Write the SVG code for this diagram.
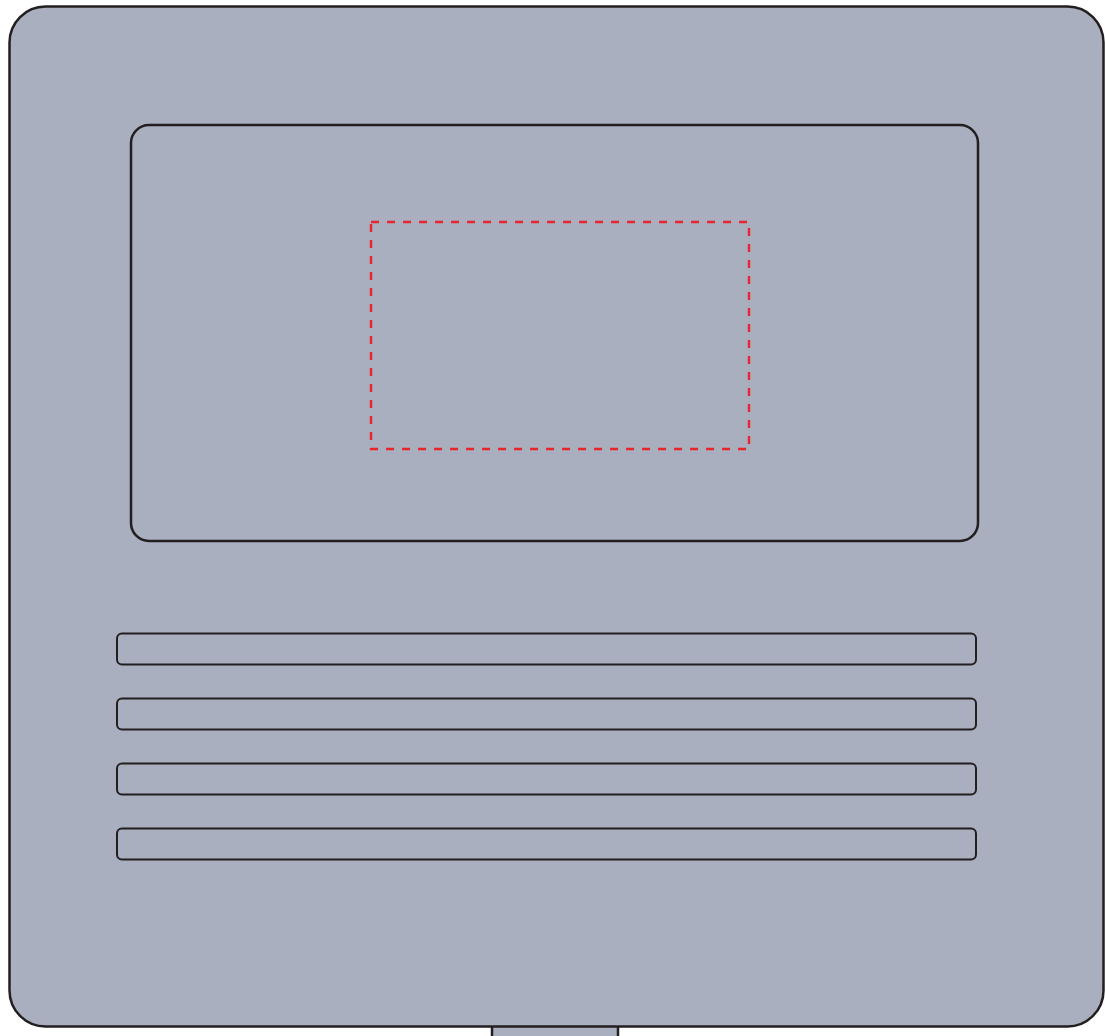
<svg xmlns="http://www.w3.org/2000/svg" width="1105" height="1036" viewBox="0 0 1105 1036">
<style>
.body{fill:#a9afbe;stroke:#231f20;stroke-width:2.5}
.slot{fill:#a9afbe;stroke:#231f20;stroke-width:2}
.focus{fill:none;stroke:#e8242c;stroke-width:2.4;stroke-dasharray:8 8}
</style>
<rect width="1105" height="1036" fill="#ffffff"/>
<g id="stand"><rect class="body" x="492" y="1020" width="126" height="20"/></g>
<g id="housing"><rect class="body" x="9.5" y="6.5" width="1094" height="1020" rx="36" ry="36"/></g>
<g id="screen"><rect class="body" x="131" y="125" width="847" height="416" rx="18" ry="18"/></g>
<g id="focus-area"><rect class="focus" x="371" y="222" width="378" height="227"/></g>
<g id="vents">
<rect class="slot" x="117" y="633.5" width="859" height="31" rx="5" ry="5"/>
<rect class="slot" x="117" y="698.5" width="859" height="31" rx="5" ry="5"/>
<rect class="slot" x="117" y="763.5" width="859" height="31" rx="5" ry="5"/>
<rect class="slot" x="117" y="828.5" width="859" height="31" rx="5" ry="5"/>
</g>
</svg>
